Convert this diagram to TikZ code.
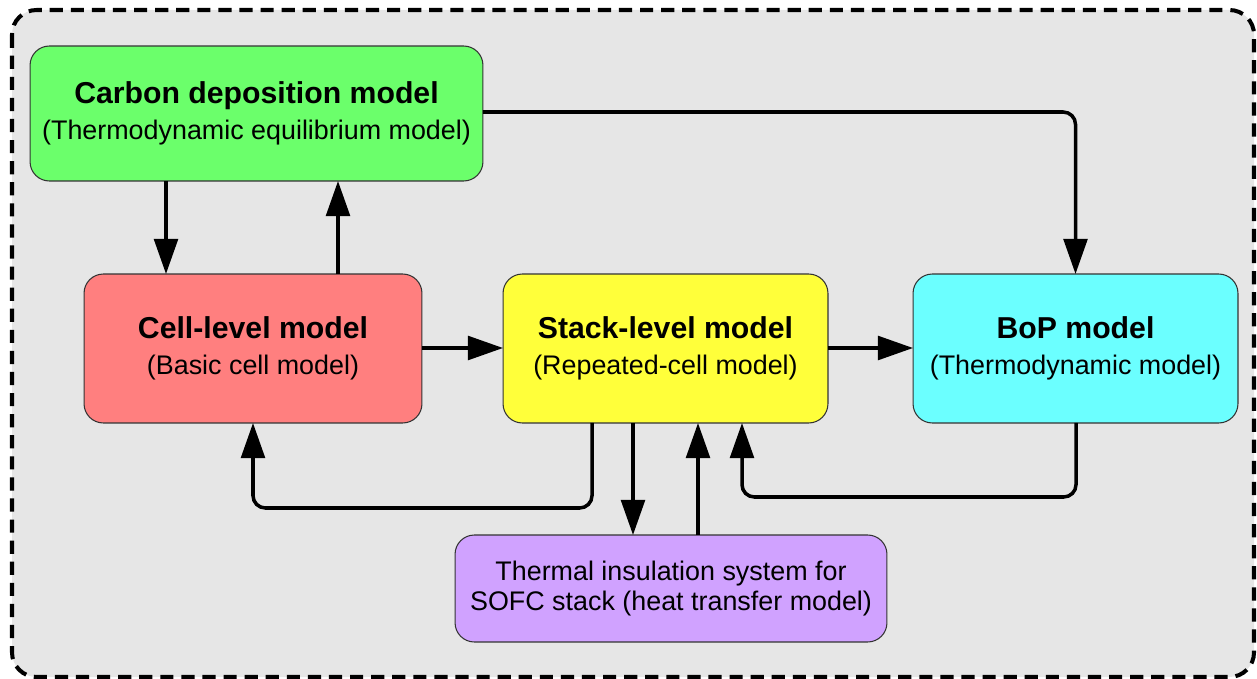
\documentclass[tikz,border=0pt]{standalone}
\usepackage{fontspec}
\setmainfont{Liberation Sans}
\usetikzlibrary{arrows.meta}
\definecolor{bggray}{HTML}{E6E6E6}
\definecolor{cgreen}{HTML}{6BFF6B}
\definecolor{cred}{HTML}{FF7F7F}
\definecolor{cyellow}{HTML}{FFFF3A}
\definecolor{ccyan}{HTML}{6BFFFF}
\definecolor{cpurple}{HTML}{D0A2FF}
\begin{document}
\begin{tikzpicture}[x=0.02cm,y=-0.02cm,
  box/.style={draw=black!80,line width=0.6pt,rounded corners=11pt,inner sep=0pt,outer sep=0pt,
    align=center,font=\fontsize{15.3}{20.5}\selectfont},
  arr/.style={line width=2pt,-{Triangle[length=20pt,width=13.5pt]},rounded corners=7pt}]
\useasboundingbox (0,0) rectangle (1257,679);
\draw[fill=bggray,line width=2.3pt,dash pattern=on 7.5pt off 4.5pt,rounded corners=14pt] (12,10) rectangle (1254,677);
\node[box,fill=cgreen,minimum width=9.06cm,minimum height=2.7cm] (carbon) at (256.5,113.5)
  {{\fontsize{17.2}{20.5}\selectfont\bfseries Carbon deposition model}\\(Thermodynamic equilibrium model)};
\node[box,fill=cred,minimum width=6.76cm,minimum height=2.98cm] (cell) at (253,348.5)
  {{\fontsize{17.2}{20.5}\selectfont\bfseries Cell-level model}\\(Basic cell model)};
\node[box,fill=cyellow,minimum width=6.5cm,minimum height=2.98cm] (stack) at (665.5,348.5)
  {{\fontsize{17.2}{20.5}\selectfont\bfseries Stack-level model}\\(Repeated-cell model)};
\node[box,fill=ccyan,minimum width=6.5cm,minimum height=2.98cm] (bop) at (1075.5,348.5)
  {{\fontsize{17.2}{20.5}\selectfont\bfseries BoP model}\\(Thermodynamic model)};
\node[box,fill=cpurple,minimum width=8.64cm,minimum height=2.14cm,font=\fontsize{15.3}{17.6}\selectfont] (therm) at (671,588.5)
  {Thermal insulation system for\\SOFC stack (heat transfer model)};
% carbon <-> cell
\draw[arr] (carbon.south -| 166,0) -- (cell.north -| 166,0);
\draw[arr] (cell.north -| 338,0) -- (carbon.south -| 338,0);
% carbon -> bop
\draw[arr] (carbon.east |- 0,112) -| (bop.north);
% cell -> stack -> bop
\draw[arr] (cell.east |- 0,348) -- (stack.west |- 0,348);
\draw[arr] (stack.east |- 0,348) -- (bop.west |- 0,348);
% stack -> cell loop
\draw[arr] (stack.south -| 592,0) |- (253,508) -- (cell.south -| 253,0);
% stack <-> thermal
\draw[arr] (stack.south -| 633,0) -- (therm.north -| 633,0);
\draw[arr] (therm.north -| 698,0) -- (stack.south -| 698,0);
% bop -> stack loop
\draw[arr] (bop.south -| 1076,0) |- (742,497) -- (stack.south -| 742,0);
\end{tikzpicture}
\end{document}
